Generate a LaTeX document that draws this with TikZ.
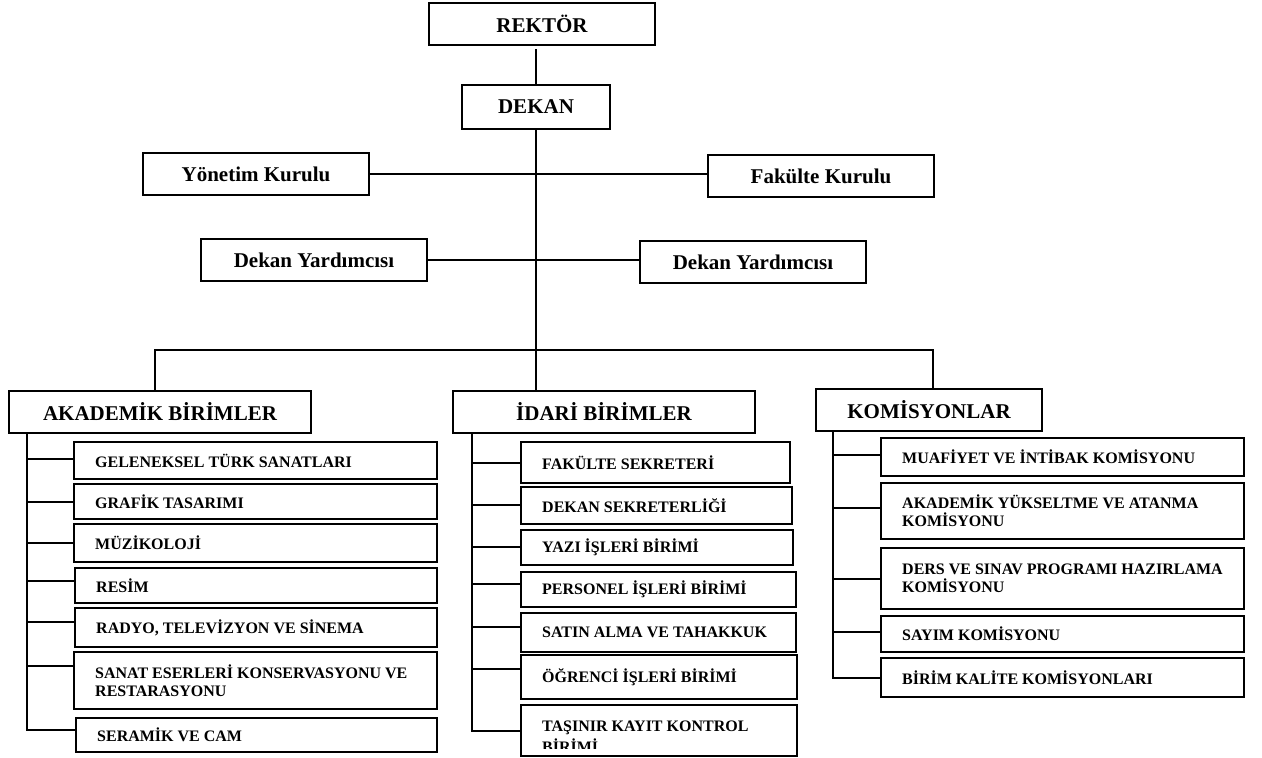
\documentclass[tikz,border=0pt]{standalone}
\usepackage{fontspec}
\setmainfont{Liberation Serif}
\tikzset{
  every picture/.style={x=1pt,y=-1pt},
  tbox/.style={draw=black,line width=1.3pt,fill=white,inner sep=0pt,outer sep=0pt,
    font=\fontsize{21}{25}\selectfont\bfseries,anchor=north west},
  cbox/.style={draw=black,line width=1.3pt,fill=white,inner sep=0pt,outer sep=0pt,anchor=north west},
  ctext/.style={inner sep=0pt,align=left,font=\fontsize{16}{18}\selectfont\bfseries,anchor=west},
  conn/.style={draw=black,line width=1.1pt}
}
\newcommand\tbx[6]{\node[tbox,minimum width=#4-#2,minimum height=#5-#3] (#1) at (#2,#3) {#6};}
\newcommand\chbx[6]{\node[cbox,minimum width=#4-#2,minimum height=#5-#3] (#1) at (#2,#3) {};
  \node[ctext] (#1t) at ([xshift=21pt]#1.west) {#6};}
\begin{document}
\begin{tikzpicture}
\path[fill=white,use as bounding box] (0,0) rectangle (1262,758);
\clip (0,0) rectangle (1262,758);
% top level
\tbx{rektor}{429}{3}{655}{45}{REKTÖR}
\tbx{dekan}{462}{85}{610}{129}{DEKAN}
\tbx{yonetim}{143}{153}{369}{195}{Yönetim Kurulu}
\tbx{fakulte}{708}{155}{934}{197}{Fakülte Kurulu}
\tbx{dy1}{201}{239}{427}{281}{Dekan Yardımcısı}
\tbx{dy2}{640}{241}{866}{283}{Dekan Yardımcısı}
\tbx{akad}{9}{391}{311}{433}{AKADEMİK BİRİMLER}
\tbx{idari}{453}{391}{755}{433}{İDARİ BİRİMLER}
\tbx{komis}{816}{389}{1042}{431}{KOMİSYONLAR}
% connectors of the top
\draw[conn] ([yshift=-4pt]rektor.south -| dekan.north) -- (dekan.north);
\draw[conn] (dekan.south) -- (dekan.south |- idari.north);
\draw[conn] (yonetim.east) -- (yonetim.east -| fakulte.west);
\draw[conn] (dy1.east) -- (dy1.east -| dy2.west);
\coordinate (busL) at (155,350);
\coordinate (busR) at (933,350);
\draw[conn] (busL |- akad.north) -- (busL) -- (busR) -- (busR |- komis.north);
% akademik
\chbx{a1}{74}{442}{437}{479}{GELENEKSEL TÜRK SANATLARI}
\chbx{a2}{74}{484}{437}{519}{GRAFİK TASARIMI}
\chbx{a3}{74}{524}{437}{562}{MÜZİKOLOJİ}
\chbx{a4}{75}{568}{437}{603}{RESİM}
\chbx{a5}{75}{608}{437}{647}{RADYO, TELEVİZYON VE SİNEMA}
\chbx{a6}{74}{652}{437}{709}{SANAT ESERLERİ KONSERVASYONU VE\\RESTARASYONU}
\chbx{a7}{76}{718}{437}{752}{SERAMİK VE CAM}
\coordinate (sA) at (27,433);
\coordinate (eA) at (27,730);
\draw[conn] (sA) -- (eA) -- (eA -| a7.west);
\foreach \n/\yy in {a1/459,a2/502,a3/543,a4/581,a5/622,a6/666}{
  \coordinate (b\n) at (27,\yy);
  \draw[conn] (b\n) -- (b\n -| \n.west);
}
% idari
\chbx{i1}{521}{442}{790}{483}{FAKÜLTE SEKRETERİ}
\chbx{i2}{521}{487}{792}{524}{DEKAN SEKRETERLİĞİ}
\chbx{i3}{521}{530}{793}{565}{YAZI İŞLERİ BİRİMİ}
\chbx{i4}{521}{572}{796}{607}{PERSONEL İŞLERİ BİRİMİ}
\chbx{i5}{521}{613}{796}{652}{SATIN ALMA VE TAHAKKUK}
\chbx{i6}{521}{655}{797}{699}{ÖĞRENCİ İŞLERİ BİRİMİ}
\node[cbox,minimum width=276,minimum height=51] (i7) at (521,705) {};
\begin{scope}
  \clip (521,705) rectangle (797,748.5);
  \node[ctext,anchor=north west,font=\fontsize{16}{21}\selectfont\bfseries] (i7t) at (542,721) {TAŞINIR KAYIT KONTROL\\BİRİMİ};
\end{scope}
\coordinate (sI) at (472,433);
\coordinate (eI) at (472,731);
\draw[conn] (sI) -- (eI) -- (eI -| i7.west);
\foreach \n/\yy in {i1/463,i2/505,i3/547,i4/584,i5/627,i6/669}{
  \coordinate (b\n) at (472,\yy);
  \draw[conn] (b\n) -- (b\n -| \n.west);
}
% komisyonlar
\chbx{k1}{881}{438}{1244}{476}{MUAFİYET VE İNTİBAK KOMİSYONU}
\chbx{k2}{881}{483}{1244}{539}{AKADEMİK YÜKSELTME VE ATANMA\\KOMİSYONU}
\chbx{k3}{881}{548}{1244}{609}{DERS VE SINAV PROGRAMI HAZIRLAMA\\KOMİSYONU}
\chbx{k4}{881}{616}{1244}{652}{SAYIM KOMİSYONU}
\chbx{k5}{881}{658}{1244}{697}{BİRİM KALİTE KOMİSYONLARI}
\coordinate (sK) at (833,431);
\coordinate (eK) at (833,678);
\draw[conn] (sK) -- (eK) -- (eK -| k5.west);
\foreach \n/\yy in {k1/455,k2/508,k3/579,k4/632}{
  \coordinate (b\n) at (833,\yy);
  \draw[conn] (b\n) -- (b\n -| \n.west);
}
\end{tikzpicture}
\end{document}
